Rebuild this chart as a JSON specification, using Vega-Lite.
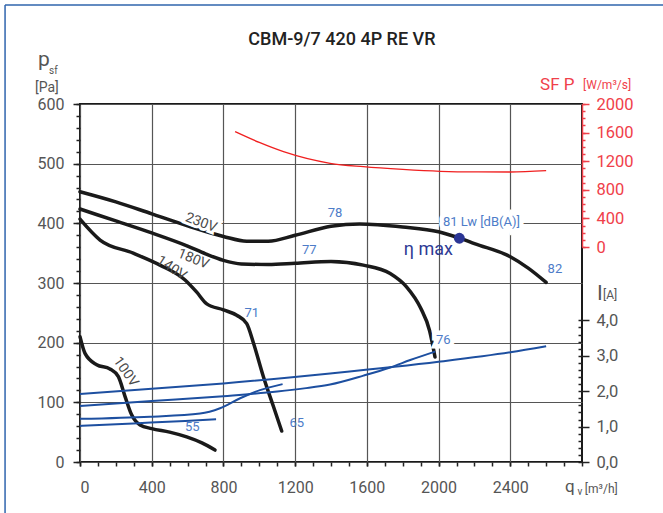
{
  "$schema": "https://vega.github.io/schema/vega-lite/v6.json",
  "width": 502,
  "height": 358,
  "autosize": {"type": "none"},
  "padding": {"left": 80, "top": 104, "right": 81, "bottom": 51},
  "background": "white",
  "config": {
    "view": {"stroke": "#1a1a1a", "strokeWidth": 2},
    "axis": {"labelFont": "Roboto", "titleFont": "Roboto"},
    "text": {"font": "Roboto"}
  },
  "datasets": {
    "frame": [
      {"q": -418, "q2": 3458, "p": 766, "p2": 766},
      {"q": -418, "q2": -418, "p": 766, "p2": -231}
    ],
    "pressure": [
      {"series": "230V", "q": 0, "p": 453}, {"series": "230V", "q": 200, "p": 436}, {"series": "230V", "q": 400, "p": 416}, {"series": "230V", "q": 600, "p": 396}, {"series": "230V", "q": 800, "p": 378}, {"series": "230V", "q": 930, "p": 370}, {"series": "230V", "q": 1050, "p": 370}, {"series": "230V", "q": 1200, "p": 380}, {"series": "230V", "q": 1400, "p": 395}, {"series": "230V", "q": 1560, "p": 399}, {"series": "230V", "q": 1800, "p": 394}, {"series": "230V", "q": 2000, "p": 386}, {"series": "230V", "q": 2120, "p": 375}, {"series": "230V", "q": 2200, "p": 366}, {"series": "230V", "q": 2400, "p": 344}, {"series": "230V", "q": 2500, "p": 325}, {"series": "230V", "q": 2600, "p": 301},
      {"series": "180V", "q": 0, "p": 424}, {"series": "180V", "q": 200, "p": 404}, {"series": "180V", "q": 400, "p": 384}, {"series": "180V", "q": 600, "p": 362}, {"series": "180V", "q": 700, "p": 349}, {"series": "180V", "q": 800, "p": 338}, {"series": "180V", "q": 900, "p": 332}, {"series": "180V", "q": 1050, "p": 331}, {"series": "180V", "q": 1200, "p": 333}, {"series": "180V", "q": 1400, "p": 336}, {"series": "180V", "q": 1580, "p": 330}, {"series": "180V", "q": 1730, "p": 316}, {"series": "180V", "q": 1820, "p": 294}, {"series": "180V", "q": 1900, "p": 258}, {"series": "180V", "q": 1950, "p": 220}, {"series": "180V", "q": 1980, "p": 176},
      {"series": "140V", "q": 0, "p": 407}, {"series": "140V", "q": 112, "p": 372}, {"series": "140V", "q": 297, "p": 350}, {"series": "140V", "q": 446, "p": 330}, {"series": "140V", "q": 586, "p": 305}, {"series": "140V", "q": 650, "p": 285}, {"series": "140V", "q": 707, "p": 265}, {"series": "140V", "q": 800, "p": 255}, {"series": "140V", "q": 874, "p": 246}, {"series": "140V", "q": 930, "p": 232}, {"series": "140V", "q": 967, "p": 200}, {"series": "140V", "q": 1023, "p": 143}, {"series": "140V", "q": 1079, "p": 93}, {"series": "140V", "q": 1125, "p": 52},
      {"series": "100V", "q": 0, "p": 210}, {"series": "100V", "q": 28, "p": 182}, {"series": "100V", "q": 93, "p": 163}, {"series": "100V", "q": 167, "p": 156}, {"series": "100V", "q": 214, "p": 143}, {"series": "100V", "q": 251, "p": 110}, {"series": "100V", "q": 288, "p": 79}, {"series": "100V", "q": 335, "p": 62}, {"series": "100V", "q": 400, "p": 56}, {"series": "100V", "q": 500, "p": 50}, {"series": "100V", "q": 595, "p": 42}, {"series": "100V", "q": 680, "p": 32}, {"series": "100V", "q": 753, "p": 20}
    ],
    "current": [
      {"series": "230V", "q": 0, "i": 1.92}, {"series": "230V", "q": 400, "i": 2.07}, {"series": "230V", "q": 800, "i": 2.22}, {"series": "230V", "q": 1395, "i": 2.5}, {"series": "230V", "q": 2000, "i": 2.83}, {"series": "230V", "q": 2400, "i": 3.1}, {"series": "230V", "q": 2600, "i": 3.27},
      {"series": "180V", "q": 0, "i": 1.58}, {"series": "180V", "q": 400, "i": 1.72}, {"series": "180V", "q": 800, "i": 1.86}, {"series": "180V", "q": 1100, "i": 1.99}, {"series": "180V", "q": 1250, "i": 2.08}, {"series": "180V", "q": 1395, "i": 2.19}, {"series": "180V", "q": 1581, "i": 2.44}, {"series": "180V", "q": 1730, "i": 2.67}, {"series": "180V", "q": 1842, "i": 2.88}, {"series": "180V", "q": 1981, "i": 3.12},
      {"series": "140V", "q": 0, "i": 1.22}, {"series": "140V", "q": 391, "i": 1.28}, {"series": "140V", "q": 670, "i": 1.37}, {"series": "140V", "q": 781, "i": 1.52}, {"series": "140V", "q": 893, "i": 1.8}, {"series": "140V", "q": 1004, "i": 2.03}, {"series": "140V", "q": 1130, "i": 2.2},
      {"series": "100V", "q": 0, "i": 1.02}, {"series": "100V", "q": 298, "i": 1.09}, {"series": "100V", "q": 586, "i": 1.16}, {"series": "100V", "q": 759, "i": 1.21}
    ],
    "sfp": [
      {"q": 865, "sfp": 1613}, {"q": 1000, "sfp": 1462}, {"q": 1135, "sfp": 1333}, {"q": 1395, "sfp": 1171}, {"q": 1581, "sfp": 1123}, {"q": 1800, "sfp": 1085}, {"q": 2009, "sfp": 1059}, {"q": 2200, "sfp": 1050}, {"q": 2400, "sfp": 1049}, {"q": 2600, "sfp": 1067}
    ],
    "eta": [{"q": 2116, "p": 375}],
    "texts": [
      {"kind": "v230", "q": 675, "p": 401, "text": "230V"},
      {"kind": "v180", "q": 632, "p": 340, "text": "180V"},
      {"kind": "v140", "q": 511, "p": 325, "text": "140V"},
      {"kind": "v100", "q": 255, "p": 151, "text": "100V"},
      {"kind": "db", "q": 1422, "p": 417, "text": "78"},
      {"kind": "db", "q": 1279, "p": 355, "text": "77"},
      {"kind": "db", "q": 958, "p": 249, "text": "71"},
      {"kind": "db", "q": 1209, "p": 65, "text": "65"},
      {"kind": "db", "q": 626, "p": 59, "text": "55"},
      {"kind": "dbh", "q": 2026, "p": 204, "text": "76"},
      {"kind": "dbh", "q": 2239, "p": 403, "text": "81  Lw [dB(A)]"},
      {"kind": "db", "q": 2649, "p": 323, "text": "82"},
      {"kind": "eta", "q": 1943, "p": 355, "text": "η max"},
      {"kind": "title", "q": 1461, "p": 707, "text": "CBM-9/7 420 4P RE VR"},
      {"kind": "big", "q": -234, "p": 664, "text": "p"},
      {"kind": "sub", "q": -173, "p": 650, "text": "sf"},
      {"kind": "unit", "q": -251, "p": 620, "text": "[Pa]"},
      {"kind": "redbig", "q": 2566, "p": 623, "text": "SF P"},
      {"kind": "redunit", "q": 2806, "p": 625, "text": "[W/m³/s]"},
      {"kind": "big", "q": 2884, "p": 271, "text": "I"},
      {"kind": "small", "q": 2917, "p": 273, "text": "[A]"},
      {"kind": "qbig", "q": 2705, "p": -50, "text": "q"},
      {"kind": "sub", "q": 2775, "p": -55, "text": "v"},
      {"kind": "small", "q": 2816, "p": -52, "text": "[m³/h]"}
    ]
  },
  "encoding": {
    "x": {"field": "q", "type": "quantitative", "scale": {"domain": [0, 2800], "nice": false, "zero": false}, "axis": null},
    "y": {"field": "p", "type": "quantitative", "scale": {"domain": [0, 600], "nice": false, "zero": false}, "axis": null}
  },
  "layer": [
    {
      "data": {"name": "frame"},
      "mark": {"type": "rule", "color": "#2f64ad", "strokeWidth": 1.5, "clip": false},
      "encoding": {
        "x2": {"field": "q2"},
        "y2": {"field": "p2"}
      }
    },
    {
      "data": {"name": "pressure"},
      "mark": {"type": "line", "interpolate": "monotone", "color": "#1a1a1a", "strokeWidth": 3.5, "strokeCap": "round"},
      "encoding": {
        "x": {"field": "q", "type": "quantitative", "scale": {"domain": [0, 2800], "nice": false, "zero": false},
          "axis": {"orient": "bottom", "values": [0, 400, 800, 1200, 1600, 2000, 2400], "format": "d", "grid": true, "gridColor": "#555555", "gridWidth": 1.2, "ticks": true, "tickSize": 4, "tickColor": "#222222", "tickWidth": 1.5, "domain": false, "labelFontSize": 16, "labelColor": "#555555", "labelPadding": 13, "title": null}},
        "y": {"field": "p", "type": "quantitative", "scale": {"domain": [0, 600], "nice": false, "zero": false},
          "axis": {"orient": "left", "values": [0, 100, 200, 300, 400, 500, 600], "format": "d", "grid": true, "gridColor": "#555555", "gridWidth": 1.2, "tickSize": 7, "tickColor": "#222222", "tickWidth": 1.5, "domain": false, "labelFontSize": 16, "labelColor": "#555555", "labelPadding": 9, "title": null}},
        "detail": {"field": "series", "type": "nominal"}
      }
    },
    {
      "data": {"name": "sfp"},
      "mark": {"type": "line", "interpolate": "monotone", "color": "#f02020", "strokeWidth": 1.3},
      "encoding": {
        "y": {"field": "sfp", "type": "quantitative", "scale": {"domain": [0, 2000], "range": [143, 0], "nice": false, "zero": false},
          "axis": {"orient": "right", "values": [0, 400, 800, 1200, 1600, 2000], "format": "d", "grid": false, "tickSize": 7, "tickColor": "#f0404a", "tickWidth": 1.5, "domain": true, "domainColor": "#f0404a", "domainWidth": 1.5, "labelFontSize": 16.5, "labelColor": "#f0404a", "labelPadding": 7, "title": null}}
      }
    },
    {
      "data": {"name": "sfp"},
      "mark": {"type": "line", "opacity": 0},
      "encoding": {
        "y": {"field": "sfp", "type": "quantitative", "scale": {"domain": [0, 2000], "range": [143, 0], "nice": false, "zero": false},
          "axis": {"orient": "right", "values": [0, 100, 200, 300, 400, 500, 600, 700, 800, 900, 1000, 1100, 1200, 1300, 1400, 1500, 1600, 1700, 1800, 1900, 2000], "grid": false, "tickSize": 3, "tickColor": "#f0404a", "tickWidth": 1.5, "domain": false, "labels": false, "title": null}}
      }
    },
    {
      "data": {"name": "current"},
      "mark": {"type": "line", "interpolate": "monotone", "color": "#1d4fa0", "strokeWidth": 2},
      "encoding": {
        "y": {"field": "i", "type": "quantitative", "scale": {"domain": [0, 4], "range": [358, 216.4], "nice": false, "zero": false},
          "axis": {"orient": "right", "values": [0, 1, 2, 3, 4], "labelExpr": "replace(format(datum.value, '.1f'), '.', ',')", "grid": false, "tickSize": 7, "tickColor": "#222222", "tickWidth": 1.5, "domain": false, "labelFontSize": 16.5, "labelColor": "#555555", "labelPadding": 7, "title": null}},
        "detail": {"field": "series", "type": "nominal"}
      }
    },
    {
      "data": {"name": "current"},
      "mark": {"type": "line", "opacity": 0},
      "encoding": {
        "y": {"field": "i", "type": "quantitative", "scale": {"domain": [0, 4], "range": [358, 216.4], "nice": false, "zero": false},
          "axis": {"orient": "right", "values": [0, 0.2, 0.4, 0.6, 0.8, 1, 1.2, 1.4, 1.6, 1.8, 2, 2.2, 2.4, 2.6, 2.8, 3, 3.2, 3.4, 3.6, 3.8, 4], "grid": false, "tickSize": -4, "tickColor": "#222222", "tickWidth": 1.5, "domain": false, "labels": false, "title": null}},
        "detail": {"field": "series", "type": "nominal"}
      }
    },
    {
      "data": {"name": "eta"},
      "mark": {"type": "circle", "color": "#2b3595", "opacity": 1, "size": 120},
      "encoding": {
        "x": {"field": "q", "type": "quantitative", "scale": {"domain": [0, 2800], "nice": false, "zero": false},
          "axis": {"orient": "bottom", "values": [0, 100, 200, 300, 400, 500, 600, 700, 800, 900, 1000, 1100, 1200, 1300, 1400, 1500, 1600, 1700, 1800, 1900, 2000, 2100, 2200, 2300, 2400, 2500, 2600, 2700, 2800], "grid": false, "tickSize": 4, "tickColor": "#222222", "tickWidth": 1.5, "domain": false, "labels": false, "title": null}},
        "y": {"field": "p", "type": "quantitative", "scale": {"domain": [0, 600], "nice": false, "zero": false},
          "axis": {"orient": "left", "values": [0, 20, 40, 60, 80, 100, 120, 140, 160, 180, 200, 220, 240, 260, 280, 300, 320, 340, 360, 380, 400, 420, 440, 460, 480, 500, 520, 540, 560, 580, 600], "grid": false, "tickSize": 4, "tickColor": "#222222", "tickWidth": 1.5, "domain": false, "labels": false, "title": null}}
      }
    },
    {
      "data": {"name": "texts"},
      "transform": [{"filter": "datum.kind == 'dbh'"}],
      "mark": {"type": "text", "fontSize": 13, "color": "white", "stroke": "white", "strokeWidth": 9, "align": "center", "baseline": "middle"},
      "encoding": {"text": {"field": "text"}}
    },
    {
      "data": {"name": "texts"},
      "transform": [{"filter": "datum.kind == 'v230'"}],
      "mark": {"type": "text", "fontSize": 14, "color": "white", "stroke": "white", "strokeWidth": 6, "angle": 21, "align": "center", "baseline": "middle"},
      "encoding": {"text": {"field": "text"}}
    },
    {
      "data": {"name": "texts"},
      "transform": [{"filter": "datum.kind == 'v230'"}],
      "mark": {"type": "text", "fontSize": 14, "color": "#4a4a4a", "angle": 21, "align": "center", "baseline": "middle"},
      "encoding": {"text": {"field": "text"}}
    },
    {
      "data": {"name": "texts"},
      "transform": [{"filter": "datum.kind == 'v180'"}],
      "mark": {"type": "text", "fontSize": 14, "color": "#4a4a4a", "angle": 22, "align": "center", "baseline": "middle"},
      "encoding": {"text": {"field": "text"}}
    },
    {
      "data": {"name": "texts"},
      "transform": [{"filter": "datum.kind == 'v140'"}],
      "mark": {"type": "text", "fontSize": 14, "color": "#4a4a4a", "angle": 33, "align": "center", "baseline": "middle"},
      "encoding": {"text": {"field": "text"}}
    },
    {
      "data": {"name": "texts"},
      "transform": [{"filter": "datum.kind == 'v100'"}],
      "mark": {"type": "text", "fontSize": 14, "color": "#4a4a4a", "angle": 55, "align": "center", "baseline": "middle"},
      "encoding": {"text": {"field": "text"}}
    },
    {
      "data": {"name": "texts"},
      "transform": [{"filter": "datum.kind == 'db' || datum.kind == 'dbh'"}],
      "mark": {"type": "text", "fontSize": 13, "color": "#4d7cc8", "align": "center", "baseline": "middle"},
      "encoding": {"text": {"field": "text"}}
    },
    {
      "data": {"name": "texts"},
      "transform": [{"filter": "datum.kind == 'eta'"}],
      "mark": {"type": "text", "fontSize": 18, "color": "#2e3a94", "align": "center", "baseline": "middle"},
      "encoding": {"text": {"field": "text"}}
    },
    {
      "data": {"name": "texts"},
      "transform": [{"filter": "datum.kind == 'title'"}],
      "mark": {"type": "text", "fontSize": 18, "fontWeight": 500, "color": "#222222", "align": "center", "baseline": "middle"},
      "encoding": {"text": {"field": "text"}}
    },
    {
      "data": {"name": "texts"},
      "transform": [{"filter": "datum.kind == 'big'"}],
      "mark": {"type": "text", "fontSize": 21, "color": "#555555", "align": "left", "baseline": "alphabetic"},
      "encoding": {"text": {"field": "text"}}
    },
    {
      "data": {"name": "texts"},
      "transform": [{"filter": "datum.kind == 'qbig'"}],
      "mark": {"type": "text", "fontSize": 17, "color": "#555555", "align": "left", "baseline": "alphabetic"},
      "encoding": {"text": {"field": "text"}}
    },
    {
      "data": {"name": "texts"},
      "transform": [{"filter": "datum.kind == 'sub'"}],
      "mark": {"type": "text", "fontSize": 10, "color": "#555555", "align": "left", "baseline": "alphabetic"},
      "encoding": {"text": {"field": "text"}}
    },
    {
      "data": {"name": "texts"},
      "transform": [{"filter": "datum.kind == 'unit'"}],
      "mark": {"type": "text", "fontSize": 14, "color": "#555555", "align": "left", "baseline": "alphabetic"},
      "encoding": {"text": {"field": "text"}}
    },
    {
      "data": {"name": "texts"},
      "transform": [{"filter": "datum.kind == 'small'"}],
      "mark": {"type": "text", "fontSize": 12, "color": "#555555", "align": "left", "baseline": "alphabetic"},
      "encoding": {"text": {"field": "text"}}
    },
    {
      "data": {"name": "texts"},
      "transform": [{"filter": "datum.kind == 'redbig'"}],
      "mark": {"type": "text", "fontSize": 17, "color": "#f0404a", "align": "left", "baseline": "alphabetic"},
      "encoding": {"text": {"field": "text"}}
    },
    {
      "data": {"name": "texts"},
      "transform": [{"filter": "datum.kind == 'redunit'"}],
      "mark": {"type": "text", "fontSize": 12, "color": "#f0404a", "align": "left", "baseline": "alphabetic"},
      "encoding": {"text": {"field": "text"}}
    }
  ],
  "resolve": {"scale": {"y": "independent"}, "axis": {"x": "independent", "y": "independent"}}
}
